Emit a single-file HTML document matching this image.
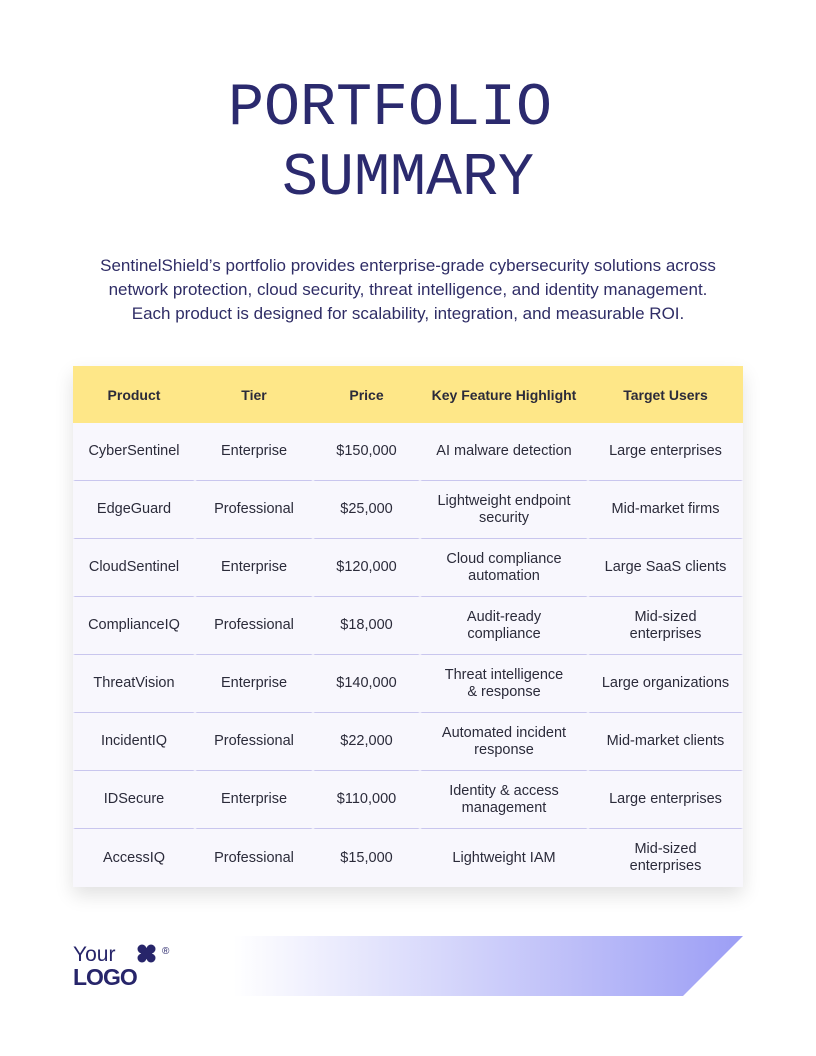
<!DOCTYPE html>
<html><head><meta charset="utf-8"><style>
*{margin:0;padding:0;box-sizing:border-box}
body{width:816px;height:1056px;background:#fff;position:relative;font-family:"Liberation Sans",sans-serif;overflow:hidden}
.t{position:absolute;font-family:"Liberation Mono",monospace;font-size:60px;color:#2b2a6e;line-height:70px;white-space:nowrap}
.p{position:absolute;left:0;width:816px;top:254px;text-align:center;font-size:17px;line-height:24px;color:#2f2d66}
table{position:absolute;left:73px;top:366px;width:670px;border-collapse:separate;border-spacing:0;box-shadow:0 8px 18px rgba(0,0,0,0.12)}
th{background:#fee788;height:57px;font-size:14px;font-weight:bold;color:#2b2b3a}
td{background:#f8f7fd;height:58px;font-size:14.5px;color:#2b2b3a;text-align:center;line-height:17px;border-bottom:1px solid #c9c6ee;border-left:2px solid #f8f7fd;border-right:2px solid #f8f7fd}
tr:last-child td{border-bottom:none}
</style></head><body>
<div class="t" style="left:228px;top:74px">PORTFOLIO</div>
<div class="t" style="left:282px;top:144px">SUMMARY</div>
<div class="p">SentinelShield’s portfolio provides enterprise-grade cybersecurity solutions across<br>network protection, cloud security, threat intelligence, and identity management.<br>Each product is designed for scalability, integration, and measurable ROI.</div>
<table>
<colgroup><col style="width:122px"><col style="width:118px"><col style="width:107px"><col style="width:168px"><col style="width:155px"></colgroup>
<tr><th>Product</th><th>Tier</th><th>Price</th><th>Key Feature Highlight</th><th>Target Users</th></tr>
<tr><td>CyberSentinel</td><td>Enterprise</td><td>$150,000</td><td>AI malware detection</td><td>Large enterprises</td></tr>
<tr><td>EdgeGuard</td><td>Professional</td><td>$25,000</td><td>Lightweight endpoint<br>security</td><td>Mid-market firms</td></tr>
<tr><td>CloudSentinel</td><td>Enterprise</td><td>$120,000</td><td>Cloud compliance<br>automation</td><td>Large SaaS clients</td></tr>
<tr><td>ComplianceIQ</td><td>Professional</td><td>$18,000</td><td>Audit-ready<br>compliance</td><td>Mid-sized<br>enterprises</td></tr>
<tr><td>ThreatVision</td><td>Enterprise</td><td>$140,000</td><td>Threat intelligence<br>&amp; response</td><td>Large organizations</td></tr>
<tr><td>IncidentIQ</td><td>Professional</td><td>$22,000</td><td>Automated incident<br>response</td><td>Mid-market clients</td></tr>
<tr><td>IDSecure</td><td>Enterprise</td><td>$110,000</td><td>Identity &amp; access<br>management</td><td>Large enterprises</td></tr>
<tr><td>AccessIQ</td><td>Professional</td><td>$15,000</td><td>Lightweight IAM</td><td>Mid-sized<br>enterprises</td></tr>
</table>
<div style="position:absolute;left:73px;top:944px;font-size:21px;line-height:22px;color:#27256a">Your</div>
<div style="position:absolute;left:73px;top:965px;font-size:23px;line-height:24px;font-weight:bold;color:#27256a;letter-spacing:-1px">LOGO</div>
<svg style="position:absolute;left:136px;top:944px" width="40" height="22"><g fill="#27256a"><circle cx="6" cy="5" r="4.5"/><circle cx="15" cy="5" r="4.5"/><circle cx="6" cy="14" r="4.5"/><circle cx="15" cy="14" r="4.5"/><rect x="5" y="4" width="11" height="11"/></g><text x="26" y="10" font-size="10" fill="#27256a" font-family="Liberation Sans">®</text></svg>
<svg style="position:absolute;left:233px;top:936px" width="512" height="60"><defs><linearGradient id="g"><stop offset="0" stop-color="#fff"/><stop offset="1" stop-color="#9c9ef5"/></linearGradient></defs><polygon points="0,0 510,0 450,60 0,60" fill="url(#g)"/></svg>
</body></html>
